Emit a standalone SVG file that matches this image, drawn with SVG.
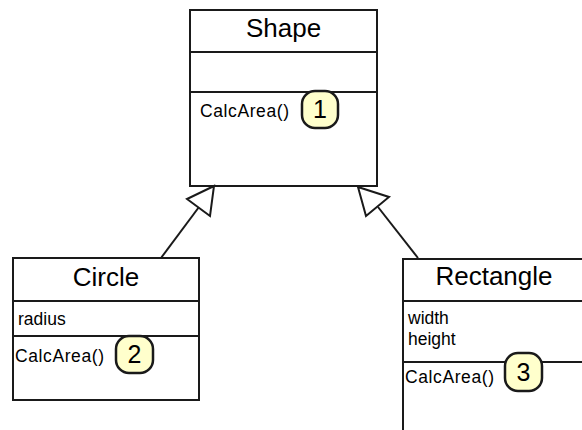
<svg xmlns="http://www.w3.org/2000/svg" width="582" height="430" viewBox="0 0 582 430">
  <style>
    .box { fill: #ffffff; stroke: #1a1a1a; stroke-width: 2; }
    .sep { stroke: #1a1a1a; stroke-width: 2; fill: none; }
    .title { font-family: "Liberation Sans", Arial, sans-serif; font-size: 26px; fill: #000; text-anchor: middle; }
    .member { font-family: "Liberation Sans", Arial, sans-serif; font-size: 17.5px; fill: #000; }
    .op { letter-spacing: 0.6px; }
    .badge { fill: #ffffcc; stroke: #1a1a1a; stroke-width: 2.5; }
    .num { font-family: "Liberation Sans", Arial, sans-serif; font-size: 25px; fill: #000; text-anchor: middle; }
    .edge { stroke: #1a1a1a; stroke-width: 2; fill: none; }
    .head { fill: #ffffff; stroke: #1a1a1a; stroke-width: 2; stroke-linejoin: miter; }
  </style>
  <rect width="582" height="430" fill="#ffffff"/>

  <g id="shape">
    <rect class="box" x="190" y="10" width="187" height="176"/>
    <line class="sep" x1="190" y1="52" x2="377" y2="52"/>
    <line class="sep" x1="190" y1="92" x2="377" y2="92"/>
    <text class="title" x="283.5" y="37">Shape</text>
    <text class="member op" x="200" y="117">CalcArea()</text>
    <rect class="badge" x="302" y="91" width="36" height="37" rx="13" ry="13"/>
    <text class="num" x="320" y="118">1</text>
  </g>

  <g id="circle">
    <rect class="box" x="13" y="258" width="186" height="142"/>
    <line class="sep" x1="13" y1="301" x2="199" y2="301"/>
    <line class="sep" x1="13" y1="336" x2="199" y2="336"/>
    <text class="title" x="106" y="286">Circle</text>
    <text class="member" x="18" y="325">radius</text>
    <text class="member op" x="15" y="362">CalcArea()</text>
    <rect class="badge" x="116" y="336" width="37" height="37" rx="13" ry="13"/>
    <text class="num" x="134.5" y="363">2</text>
  </g>

  <g id="rectangle">
    <path class="sep" d="M403 432 V259 H584"/>
    <line class="sep" x1="403" y1="301" x2="584" y2="301"/>
    <line class="sep" x1="403" y1="362" x2="584" y2="362"/>
    <text class="title" x="494" y="285">Rectangle</text>
    <text class="member" x="408" y="324">width</text>
    <text class="member" x="408" y="345">height</text>
    <text class="member op" x="405" y="383">CalcArea()</text>
    <rect class="badge" x="505" y="353" width="37" height="38" rx="13" ry="13"/>
    <text class="num" x="523.5" y="381">3</text>
  </g>

  <g id="connectors">
    <line class="edge" x1="161" y1="258" x2="199" y2="207"/>
    <polygon class="head" points="214,186 187,199 210,216"/>
    <line class="edge" x1="418" y1="258" x2="378" y2="207"/>
    <polygon class="head" points="358,187 389,197 366,216"/>
  </g>
</svg>
